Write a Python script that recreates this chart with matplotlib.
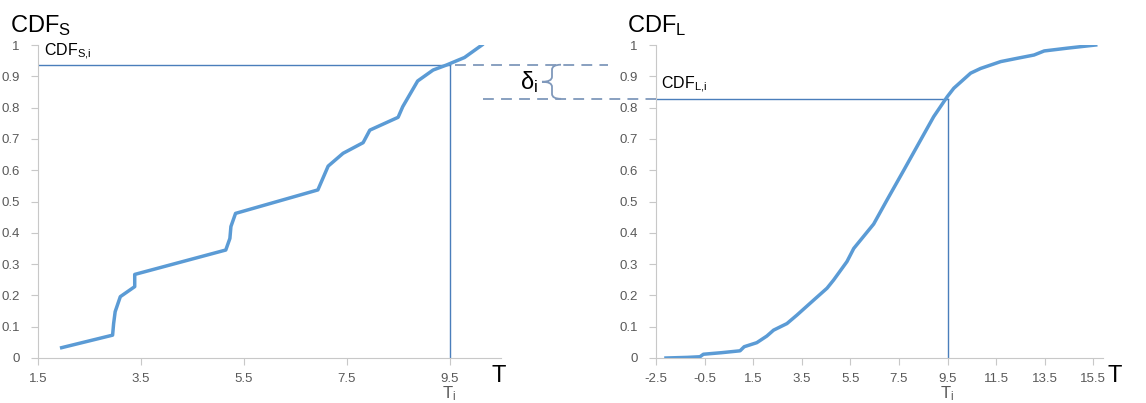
import matplotlib
matplotlib.use("Agg")
import matplotlib.pyplot as plt
from matplotlib.path import Path
from matplotlib.patches import PathPatch
from matplotlib.lines import Line2D

plt.rcParams['font.family'] = ['Liberation Sans', 'DejaVu Sans']
plt.rcParams['mathtext.fontset'] = 'custom'
plt.rcParams['mathtext.rm'] = 'Liberation Sans'
plt.rcParams['mathtext.it'] = 'Liberation Sans:italic'

t_s = [1.96, 2.95, 2.97, 3.0, 3.1, 3.38, 3.38, 5.15, 5.23, 5.25, 5.34, 6.94, 7.14,
       7.43, 7.82, 7.95, 8.50, 8.59, 8.88, 9.18, 9.44, 9.79, 10.13]
cdf_s = [0.033, 0.073, 0.11, 0.148, 0.196, 0.228, 0.267, 0.345, 0.382, 0.42, 0.462,
         0.537, 0.613, 0.654, 0.688, 0.728, 0.769, 0.803, 0.885, 0.92, 0.936, 0.96, 1.0]

# empirical CDF of the long sample
t_l = [-2.09, -1.2, -0.69, -0.55, 0.2, 0.96, 1.13, 1.65, 2.06, 2.34, 2.89, 3.30, 3.99,
       4.54, 4.81, 5.36, 5.64, 6.46, 7.01, 7.70, 8.39, 8.93, 9.49, 9.76, 10.45, 10.86,
       11.69, 12.4, 13.06, 13.48, 14.44, 15.6]
cdf_l = [0.0, 0.002, 0.004, 0.012, 0.017, 0.023, 0.036, 0.049, 0.07, 0.089, 0.11, 0.137,
         0.185, 0.223, 0.249, 0.308, 0.35, 0.428, 0.505, 0.60, 0.696, 0.771, 0.835, 0.862,
         0.91, 0.925, 0.947, 0.958, 0.968, 0.981, 0.99, 1.0]

t_i = 9.5
cdf_s_i = 0.937
cdf_l_i = 0.828

left_ticks = [1.5, 3.5, 5.5, 7.5, 9.5]
right_ticks = [-2.5, -0.5, 1.5, 3.5, 5.5, 7.5, 9.5, 11.5, 13.5, 15.5]
y_ticks = [0, 0.1, 0.2, 0.3, 0.4, 0.5, 0.6, 0.7, 0.8, 0.9, 1]

curve_col = '#5b9bd5'
ref_col = '#4a7ebb'
dash_col = '#7f98bb'
grey = '#595959'
W, H = 1146, 403

fig = plt.figure(figsize=(11.46, 4.03), dpi=100)
ax1 = fig.add_axes([38 / W, 1 - 358 / H, 463 / W, 313 / H])
ax2 = fig.add_axes([656 / W, 1 - 358 / H, 447 / W, 313 / H])


def style(ax, ticks, xlim):
    ax.set_xlim(*xlim)
    ax.set_ylim(0, 1)
    ax.set_xticks(ticks)
    ax.set_xticklabels([f'{v:g}' for v in ticks])
    ax.set_yticks(y_ticks)
    ax.set_yticklabels([f'{v:g}' for v in y_ticks])
    for s in ['top', 'right']:
        ax.spines[s].set_visible(False)
    for s in ['left', 'bottom']:
        ax.spines[s].set_color('#c8c8c8')
    ax.tick_params(colors='#c8c8c8', labelcolor=grey, labelsize=9.5, length=5,
                   direction='out', pad=6)
    ax.tick_params(axis='y', pad=8)
    ax.set_facecolor('none')


style(ax1, left_ticks, (1.5, 10.5))
style(ax2, right_ticks, (-2.5, 15.9))

ax1.plot(t_s, cdf_s, color=curve_col, lw=2.5, solid_joinstyle='round', zorder=3)
ax2.plot(t_l, cdf_l, color=curve_col, lw=2.5, solid_joinstyle='round', zorder=3)

# reference lines at T_i
for ax, val in [(ax1, cdf_s_i), (ax2, cdf_l_i)]:
    ax.plot([ax.get_xlim()[0], t_i], [val, val], color=ref_col, lw=1, zorder=2)
    ax.plot([t_i, t_i], [0, val], color=ref_col, lw=1, zorder=2)
    ax.text(t_i, -0.085, r'T$_\mathrm{i}$', ha='center', va='top', fontsize=12,
            color=grey, transform=ax.get_xaxis_transform())

fig.text(492 / W, 1 - 376 / H, 'T', fontsize=17, ha='left', va='center')
fig.text(1108 / W, 1 - 376 / H, 'T', fontsize=17, ha='left', va='center')

ax1.text(1.62, cdf_s_i + 0.008, r'CDF$_\mathrm{S{,}i}$', fontsize=11.5, va='bottom')
ax2.text(-2.3, cdf_l_i + 0.012, r'CDF$_\mathrm{L{,}i}$', fontsize=11.5, va='bottom')

fig.text(10 / W, 1 - 32 / H, r'CDF$_\mathrm{S}$', fontsize=17, va='baseline')
fig.text(627 / W, 1 - 32 / H, r'CDF$_\mathrm{L}$', fontsize=17, va='baseline')

# gap between the two CDF values, in figure pixels
fig.canvas.draw()
_, y_top = ax1.transData.transform((t_i, cdf_s_i))
x_vert, _ = ax1.transData.transform((t_i, 0))
_, y_bot = ax2.transData.transform((t_i, cdf_l_i))
x_spine, _ = ax2.transData.transform((-2.5, 0))

to_fig = fig.transFigure.inverted()


def fline(x0, x1, y, **kw):
    (a, b), (c, d) = to_fig.transform([(x0, y), (x1, y)])
    fig.add_artist(Line2D([a, c], [b, d], transform=fig.transFigure, **kw))


fline(x_vert + 5, x_vert + 158, y_top, color=dash_col, lw=1.3, ls=(0, (6, 4)))
fline(x_vert + 33, x_spine, y_bot, color=dash_col, lw=1.3, ls=(0, (6, 4)))

# curly brace
xr, xm, xl = 561, 552, 542
ym = (y_top + y_bot) / 2
h = 5
verts = [(xr, y_top), (xm, y_top), (xm, y_top - h), (xm, ym + h), (xm, ym), (xl, ym),
         (xm, ym), (xm, ym - h), (xm, y_bot + h), (xm, y_bot), (xr, y_bot)]
codes = [Path.MOVETO, Path.CURVE3, Path.CURVE3, Path.LINETO, Path.CURVE3, Path.CURVE3,
         Path.CURVE3, Path.CURVE3, Path.LINETO, Path.CURVE3, Path.CURVE3]
verts = to_fig.transform(verts)
fig.add_artist(PathPatch(Path(verts, codes), transform=fig.transFigure, fill=False,
                         edgecolor=dash_col, lw=1.3))
xt, yt = to_fig.transform((xl - 4, ym))
fig.text(xt, yt, r'δ$_\mathrm{i}$', fontsize=17, ha='right', va='center')

fig.savefig('out.png', dpi=100)
